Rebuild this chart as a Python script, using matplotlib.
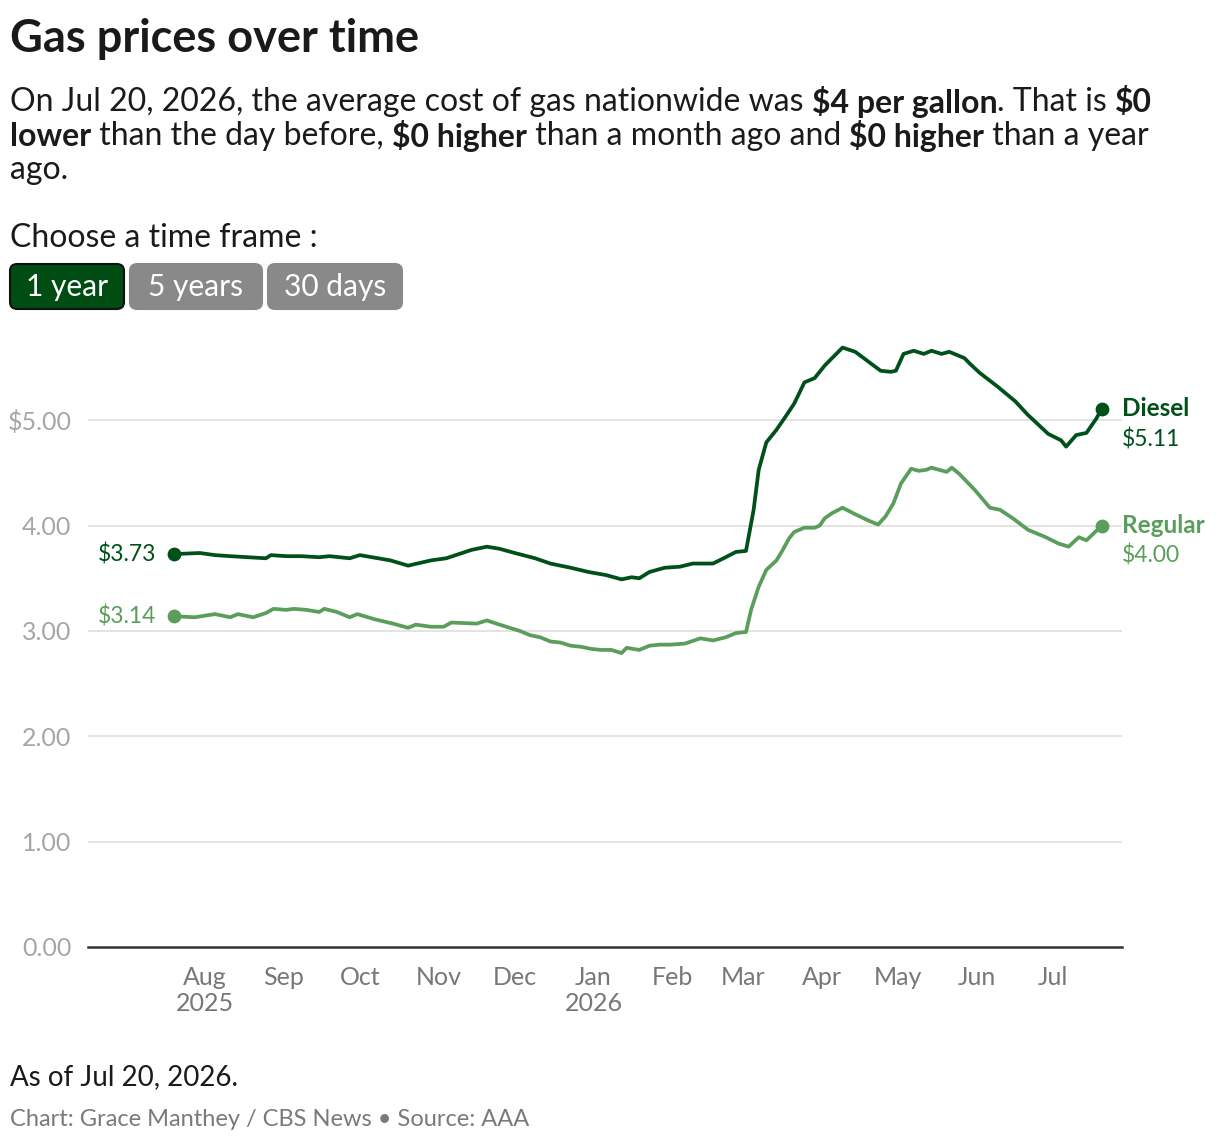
import matplotlib
matplotlib.use("Agg")
import matplotlib.pyplot as plt
from matplotlib.patches import FancyBboxPatch
import pandas as pd

plt.rcParams['text.parse_math'] = False
plt.rcParams['font.family'] = ['Lato', 'DejaVu Sans']

# ---------------- data ----------------
start_date = "2025-07-20"
diesel_days = [0, 10, 16, 22, 36, 38, 44, 50, 57, 61, 69, 73, 85, 92, 101, 107, 117, 123, 128, 134,
               142, 148, 156, 163, 170, 176, 180, 183, 187, 193, 199, 204, 212, 217, 221, 225, 228,
               230, 233, 237, 241, 244, 248, 252, 256, 263, 268, 278, 282, 284, 287, 291, 295, 298,
               302, 305, 311, 313, 317, 324, 331, 336, 344, 349, 351, 355, 359, 363, 365]
diesel_values = [3.73, 3.74, 3.72, 3.71, 3.69, 3.72, 3.71, 3.71, 3.70, 3.71, 3.69, 3.72, 3.67, 3.62,
                 3.67, 3.69, 3.77, 3.80, 3.78, 3.74, 3.69, 3.64, 3.60, 3.56, 3.53, 3.49, 3.51, 3.50,
                 3.56, 3.60, 3.61, 3.64, 3.64, 3.70, 3.75, 3.76, 4.15, 4.53, 4.79, 4.91, 5.05, 5.16,
                 5.36, 5.40, 5.52, 5.69, 5.65, 5.47, 5.46, 5.47, 5.63, 5.66, 5.63, 5.66, 5.63, 5.65,
                 5.59, 5.54, 5.45, 5.32, 5.18, 5.05, 4.87, 4.81, 4.75, 4.86, 4.88, 5.02, 5.11]

regular_days = [0, 8, 16, 22, 25, 31, 36, 39, 44, 47, 52, 57, 59, 64, 69, 72, 79, 86, 92, 95, 101,
                106, 109, 119, 123, 128, 132, 136, 140, 144, 148, 152, 156, 160, 164, 168, 172, 176,
                178, 183, 187, 191, 195, 201, 207, 212, 217, 221, 225, 227, 230, 233, 237, 239, 242,
                244, 248, 252, 254, 256, 259, 263, 267, 273, 277, 280, 283, 286, 290, 293, 296, 298,
                304, 306, 309, 315, 321, 325, 330, 336, 339, 343, 348, 352, 356, 359, 365]
regular_values = [3.14, 3.13, 3.16, 3.13, 3.16, 3.13, 3.17, 3.21, 3.20, 3.21, 3.20, 3.18, 3.21, 3.18,
                  3.13, 3.16, 3.11, 3.07, 3.03, 3.06, 3.04, 3.04, 3.08, 3.07, 3.10, 3.06, 3.03, 3.00,
                  2.96, 2.94, 2.90, 2.89, 2.86, 2.85, 2.83, 2.82, 2.82, 2.79, 2.84, 2.82, 2.86, 2.87,
                  2.87, 2.88, 2.93, 2.91, 2.94, 2.98, 2.99, 3.20, 3.42, 3.58, 3.67, 3.75, 3.88, 3.94,
                  3.98, 3.98, 4.00, 4.07, 4.12, 4.17, 4.12, 4.05, 4.01, 4.09, 4.21, 4.40, 4.54, 4.52,
                  4.53, 4.55, 4.51, 4.55, 4.49, 4.34, 4.17, 4.15, 4.07, 3.96, 3.93, 3.89, 3.83, 3.80,
                  3.89, 3.86, 4.00]

y_ticks = [0, 1, 2, 3, 4, 5]
y_tick_labels = ["0.00", "1.00", "2.00", "3.00", "4.00", "$5.00"]
month_ticks = ["2025-08-01", "2025-09-01", "2025-10-01", "2025-11-01", "2025-12-01", "2026-01-01",
               "2026-02-01", "2026-03-01", "2026-04-01", "2026-05-01", "2026-06-01", "2026-07-01"]
month_labels = ["Aug\n2025", "Sep", "Oct", "Nov", "Dec", "Jan\n2026", "Feb", "Mar", "Apr", "May",
                "Jun", "Jul"]

DIESEL = "#00501a"
REGULAR = "#5b9e5c"

t0 = pd.Timestamp(start_date)
d_dates = t0 + pd.to_timedelta(diesel_days, unit="D")
r_dates = t0 + pd.to_timedelta(regular_days, unit="D")

W, H = 1220, 1146
fig = plt.figure(figsize=(W / 100, H / 100), dpi=100)


def fx(x):
    return x / W


def fy(y):
    return 1 - y / H


# ---------------- axes ----------------
ax = fig.add_axes([fx(88), fy(947), (1122 - 88) / W, (947 - 336) / H])
ax.set_ylim(0, 5.8)
ax.set_xlim(t0 - pd.Timedelta(days=34), t0 + pd.Timedelta(days=373))
for s in ["top", "right", "left"]:
    ax.spines[s].set_visible(False)
ax.spines["bottom"].set_color("#333333")
ax.spines["bottom"].set_linewidth(1.8)
ax.set_yticks(y_ticks)
ax.set_yticklabels(y_tick_labels)
ax.tick_params(axis="y", length=0, pad=12, labelsize=18, labelcolor="#a6a6a6")
ax.set_xticks(pd.to_datetime(month_ticks))
ax.set_xticklabels(month_labels, linespacing=1.15)
ax.tick_params(axis="x", length=0, pad=14, labelsize=18, labelcolor="#777777")
for v in y_ticks[1:]:
    ax.axhline(v, color="#e3e3e3", lw=1.4, zorder=0)

ax.plot(d_dates, diesel_values, color=DIESEL, lw=2.7, solid_joinstyle="round", zorder=3)
ax.plot(r_dates, regular_values, color=REGULAR, lw=2.7, solid_joinstyle="round", zorder=3)
ax.scatter([d_dates[0], d_dates[-1]], [diesel_values[0], diesel_values[-1]], s=80, color=DIESEL,
           zorder=4)
ax.scatter([r_dates[0], r_dates[-1]], [regular_values[0], regular_values[-1]], s=80,
           color=REGULAR, zorder=4)

off = pd.Timedelta(days=7)
ax.text(d_dates[0] - off, diesel_values[0], f"${diesel_values[0]:.2f}", ha="right", va="center",
        fontsize=16.5, color=DIESEL)
ax.text(r_dates[0] - off, regular_values[0], f"${regular_values[0]:.2f}", ha="right",
        va="center", fontsize=16.5, color=REGULAR)
off2 = pd.Timedelta(days=8)
ax.text(d_dates[-1] + off2, diesel_values[-1], "Diesel", ha="left", va="center", fontsize=17.5,
        fontweight="bold", color=DIESEL, clip_on=False)
ax.text(d_dates[-1] + off2, diesel_values[-1] - 0.29, f"${diesel_values[-1]:.2f}", ha="left",
        va="center", fontsize=16.5, color=DIESEL, clip_on=False)
ax.text(r_dates[-1] + off2, regular_values[-1], "Regular", ha="left", va="center", fontsize=17.5,
        fontweight="bold", color=REGULAR, clip_on=False)
ax.text(r_dates[-1] + off2, regular_values[-1] - 0.28, f"${regular_values[-1]:.2f}", ha="left",
        va="center", fontsize=16.5, color=REGULAR, clip_on=False)

# ---------------- header text ----------------
fig.text(fx(10), fy(39), "Gas prices over time", fontsize=32.5, fontweight="bold",
         color="#1a1a1a", va="center", ha="left")

renderer = fig.canvas.get_renderer()


def rich_line(x, y, segments, size=23):
    cur = fx(x)
    for txt, bold in segments:
        t = fig.text(cur, fy(y), txt, fontsize=size, fontweight="bold" if bold else "normal",
                     color="#1a1a1a", va="center", ha="left")
        bb = t.get_window_extent(renderer=renderer)
        cur = bb.x1 / W


rich_line(10, 102, [("On Jul 20, 2026, the average cost of gas nationwide was ", False),
                    ("$4 per gallon", True), (". That is ", False), ("$0", True)])
rich_line(10, 136, [("lower", True), (" than the day before, ", False), ("$0 higher", True),
                    (" than a month ago and ", False), ("$0 higher", True),
                    (" than a year", False)])
rich_line(10, 170, [("ago.", False)])

fig.text(fx(10), fy(238), "Choose a time frame :", fontsize=23, color="#1a1a1a", va="center")

buttons = [("1 year", 10, 124, "#004d14", "#111111"), ("5 years", 130, 262, "#898989", "#898989"),
           ("30 days", 268, 402, "#898989", "#898989")]
for label, x0, x1, fc, ec in buttons:
    y0, y1 = 264, 309
    p = FancyBboxPatch((fx(x0), fy(y1)), fx(x1 - x0), (y1 - y0) / H,
                       boxstyle="round,pad=0,rounding_size=0.006", transform=fig.transFigure,
                       facecolor=fc, edgecolor=ec, linewidth=1.5)
    fig.patches.append(p)
    fig.text(fx((x0 + x1) / 2), fy(287), label, fontsize=21.5, color="white", ha="center",
             va="center")

# ---------------- footer ----------------
fig.text(fx(10), fy(1077), "As of Jul 20, 2026.", fontsize=20, color="#1a1a1a", va="center")
fig.text(fx(10), fy(1119), "Chart: Grace Manthey / CBS News \u2022 Source: AAA", fontsize=17,
         color="#7a7a7a", va="center")

fig.savefig("out.png", dpi=100, facecolor="white")
